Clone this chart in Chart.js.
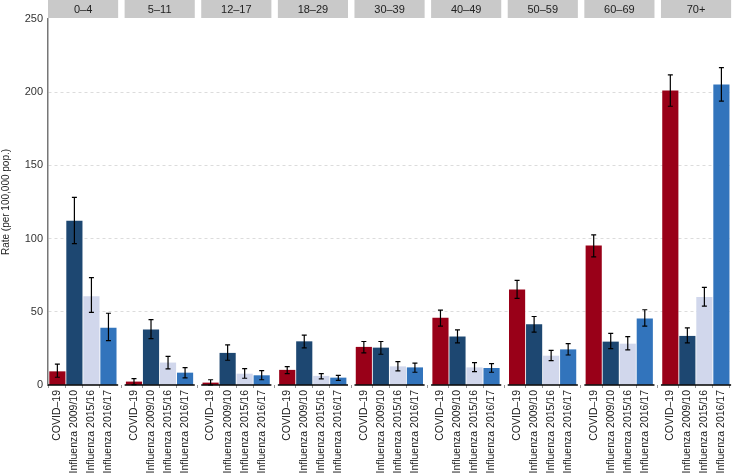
<!DOCTYPE html>
<html>
<head>
<meta charset="utf-8">
<script src="https://cdn.jsdelivr.net/npm/chart.js@4/dist/chart.umd.min.js"></script>
<style>
    body { margin: 0; background: #fff; }
    #wrap { width: 736px; height: 476px; position: relative; }
</style>
</head>
<body>
<div id="wrap"><canvas id="rateChart"></canvas></div>
<script>
// Age groups (facets) and the four compared seasons
const ageGroups = ['0–4', '5–11', '12–17', '18–29', '30–39', '40–49', '50–59', '60–69', '70+'];
const seriesNames = ['COVID–19', 'Influenza 2009/10', 'Influenza 2015/16', 'Influenza 2016/17'];
const seriesColors = ['#990018', '#1d4771', '#d1d7ec', '#3274bc'];

// Rates per 100,000 population, one value per age group
const covid    = [9.1, 2.1, 1.4, 10.1, 25.8, 45.7, 65.0, 95.0, 201.0];
const flu0910  = [111.9, 37.7, 21.7, 29.6, 25.3, 32.9, 41.3, 29.4, 33.3];
const flu1516  = [60.4, 15.1, 7.5, 6.0, 12.5, 11.8, 19.8, 28.0, 59.8];
const flu1617  = [38.8, 8.2, 6.4, 4.8, 11.8, 11.4, 24.1, 45.2, 205.0];

// 95% interval bounds
const covidLow   = [5.3, 0.2, 0.0, 7.8, 22.0, 40.2, 59.2, 87.5, 190.4];
const covidHigh  = [14.2, 4.3, 3.6, 12.6, 29.7, 51.2, 71.5, 102.5, 211.8];
const flu0910Low  = [96.6, 31.7, 16.9, 25.4, 21.0, 28.8, 36.1, 24.9, 28.8];
const flu0910High = [128.2, 44.7, 27.4, 34.1, 29.7, 37.7, 46.8, 35.3, 39.0];
const flu1516Low  = [49.6, 11.0, 4.6, 4.2, 9.6, 9.1, 16.6, 24.0, 53.9];
const flu1516High = [73.3, 19.6, 11.2, 7.8, 16.0, 15.3, 23.6, 33.1, 66.7];
const flu1617Low  = [30.3, 4.8, 3.6, 3.2, 8.7, 8.7, 20.5, 40.2, 193.9];
const flu1617High = [49.0, 11.9, 9.8, 6.6, 14.9, 14.6, 28.2, 51.4, 216.8];

const yTicks = [0, 50, 100, 150, 200, 250];

const series = [covid, flu0910, flu1516, flu1617];
const lows = [covidLow, flu0910Low, flu1516Low, flu1617Low];
const highs = [covidHigh, flu0910High, flu1516High, flu1617High];

// facet layout on the linear x scale (one unit = one bar slot)
const PANEL_STEP = 4.5;
const PANEL_WIDTH = 4.12;
const xPos = (panel, bar) => panel * PANEL_STEP + bar + 0.55;

const tickPositions = [];
ageGroups.forEach((g, p) => seriesNames.forEach((s, b) => tickPositions.push(xPos(p, b))));

const FONT = '"Liberation Sans", Arial, Helvetica, sans-serif';

const datasets = series.map((vals, s) => ({
    label: seriesNames[s],
    data: vals.map((v, p) => ({ x: xPos(p, s), y: v })),
    backgroundColor: seriesColors[s],
    borderWidth: 0,
    barThickness: 15.5,
    grouped: false
}));

// Facet strips, panel baselines and error bars
const facetPlugin = {
    id: 'facets',
    afterDatasetsDraw(chart) {
        const ctx = chart.ctx;
        const x = chart.scales.x;
        const y = chart.scales.y;
        const area = chart.chartArea;
        ctx.save();
        ageGroups.forEach((g, p) => {
            const left = x.getPixelForValue(p * PANEL_STEP);
            const right = x.getPixelForValue(p * PANEL_STEP + PANEL_WIDTH);
            // strip
            ctx.fillStyle = '#c9c9c9';
            ctx.fillRect(left, 0, right - left, 18);
            ctx.fillStyle = '#222';
            ctx.font = '11px ' + FONT;
            ctx.textAlign = 'center';
            ctx.textBaseline = 'middle';
            ctx.fillText(g, (left + right) / 2, 9.5);
            // baseline
            ctx.strokeStyle = '#000';
            ctx.lineWidth = 1.5;
            ctx.beginPath();
            ctx.moveTo(left, area.bottom);
            ctx.lineTo(right, area.bottom);
            ctx.stroke();
        });
        // error bars
        ctx.strokeStyle = '#000';
        ctx.lineWidth = 1.2;
        series.forEach((vals, s) => {
            vals.forEach((v, p) => {
                const cx = x.getPixelForValue(xPos(p, s));
                const yl = y.getPixelForValue(lows[s][p]);
                const yh = y.getPixelForValue(highs[s][p]);
                ctx.beginPath();
                ctx.moveTo(cx, yl); ctx.lineTo(cx, yh);
                ctx.moveTo(cx - 2.5, yl); ctx.lineTo(cx + 2.5, yl);
                ctx.moveTo(cx - 2.5, yh); ctx.lineTo(cx + 2.5, yh);
                ctx.stroke();
            });
        });
        ctx.restore();
    }
};

new Chart(document.getElementById('rateChart').getContext('2d'), {
    type: 'bar',
    data: { datasets: datasets },
    plugins: [facetPlugin],
    options: {
        responsive: true,
        maintainAspectRatio: false,
        animation: false,
        layout: { padding: { top: 19, right: 0, left: 0, bottom: 0 } },
        plugins: {
            legend: { display: false },
            tooltip: { enabled: false }
        },
        scales: {
            x: {
                type: 'linear',
                offset: false,
                min: 0,
                max: (ageGroups.length - 1) * PANEL_STEP + PANEL_WIDTH,
                afterBuildTicks: function(scale) {
                    scale.ticks = tickPositions.map(v => ({ value: v }));
                },
                afterFit: function(scale) {
                    scale.height = 91;
                },
                ticks: {
                    autoSkip: false,
                    minRotation: 90,
                    maxRotation: 90,
                    padding: 2,
                    color: '#1a1a1a',
                    font: { family: FONT, size: 10.5 },
                    callback: function(value, index) {
                        return seriesNames[index % seriesNames.length];
                    }
                },
                grid: {
                    drawOnChartArea: false,
                    drawTicks: true,
                    tickLength: 3,
                    color: '#999'
                },
                border: { display: false }
            },
            y: {
                min: 0,
                max: 250,
                afterBuildTicks: function(scale) {
                    scale.ticks = yTicks.map(v => ({ value: v }));
                },
                afterFit: function(scale) {
                    scale.width = 48;
                },
                ticks: {
                    padding: 5,
                    color: '#333',
                    font: { family: FONT, size: 11 }
                },
                title: {
                    display: true,
                    text: 'Rate (per 100,000 pop.)',
                    color: '#222',
                    padding: { top: 0, bottom: 2 },
                    font: { family: FONT, size: 10 }
                },
                grid: {
                    drawTicks: false,
                    lineWidth: 1,
                    color: function(c) {
                        if (c.tick && (c.tick.value === 0 || c.tick.value === 250)) return 'rgba(0,0,0,0)';
                        return '#dcdcdc';
                    }
                },
                border: { display: true, color: '#777', width: 1.5, dash: [3, 3] }
            }
        }
    }
});
</script>
</body>
</html>
